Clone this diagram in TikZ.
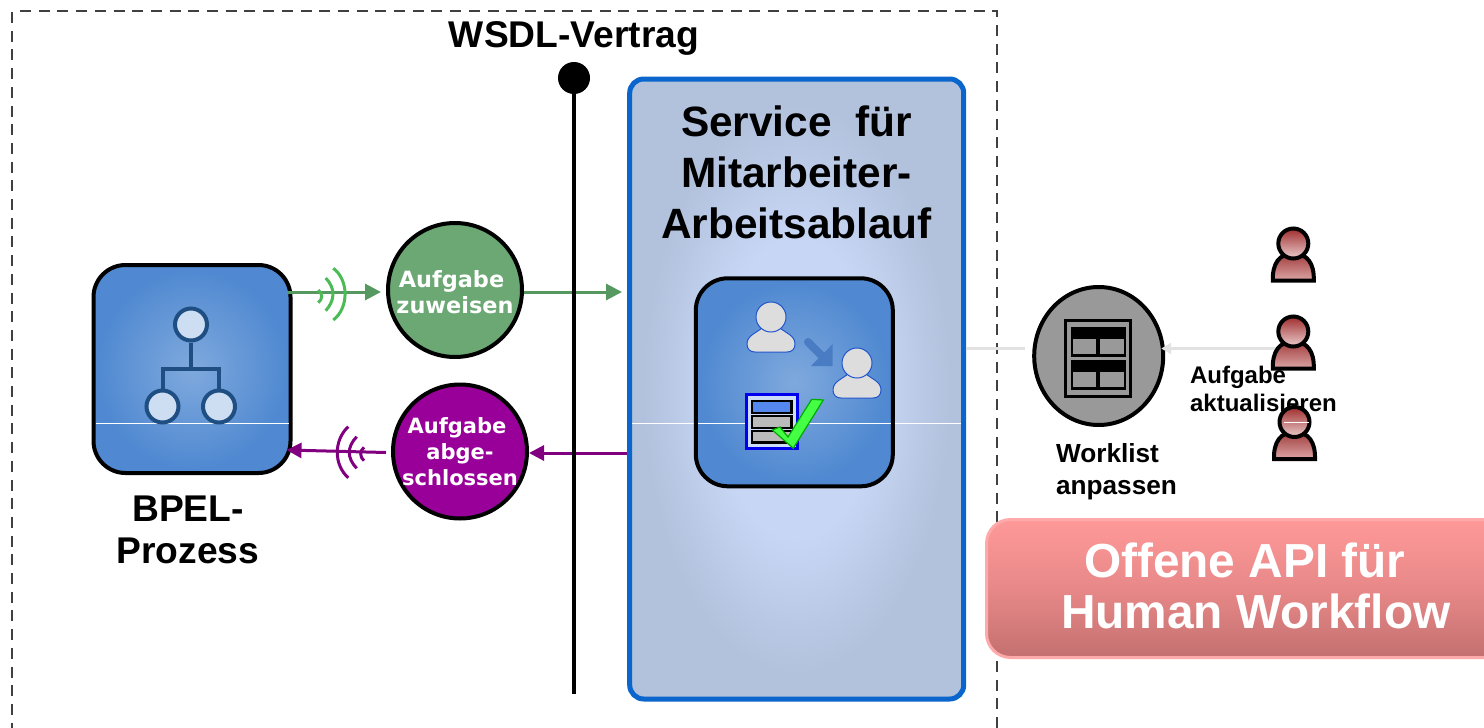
\documentclass[tikz,border=0pt]{standalone}
\usepackage{fontspec}
\setmainfont{Liberation Sans}
\newfontfamily\breitfont{DejaVu Sans}
\usetikzlibrary{arrows.meta,shapes.geometric}
\definecolor{rahmenblau}{HTML}{0A66CC}
\definecolor{serviceinnen}{HTML}{C6D6F4}
\definecolor{serviceaussen}{HTML}{B2C2DD}
\definecolor{kachelinnen}{HTML}{7FA9DD}
\definecolor{kachelaussen}{HTML}{5089D1}
\definecolor{gruen}{HTML}{6BA874}
\definecolor{gruenpfeil}{HTML}{559960}
\definecolor{gruenwelle}{HTML}{4CBB55}
\definecolor{lila}{HTML}{990099}
\definecolor{lilapfeil}{HTML}{800080}
\definecolor{hellgrau}{HTML}{E2E2E2}
\definecolor{mittelgrau}{HTML}{999999}
\definecolor{zeilengrau}{HTML}{BBBBBB}
\definecolor{nutzergrau}{HTML}{DDDDDD}
\definecolor{nutzerrand}{HTML}{2255CC}
\definecolor{baumblau}{HTML}{1F4E82}
\definecolor{baumhell}{HTML}{CDDEF3}
\definecolor{pfeilblau}{HTML}{4A7CC4}
\definecolor{formblau}{HTML}{0000EE}
\definecolor{formhell}{HTML}{CCDDF5}
\definecolor{zeileblau}{HTML}{5588EE}
\definecolor{hakenrand}{HTML}{00AA00}
\definecolor{hakengruen}{HTML}{44FF44}
\definecolor{kopfoben}{HTML}{A02D2D}
\definecolor{kopfunten}{HTML}{EBCDCD}
\definecolor{leiboben}{HTML}{A03C3C}
\definecolor{leibunten}{HTML}{DCA5A5}
\definecolor{apioben}{HTML}{FF9999}
\definecolor{apimitte}{HTML}{E88888}
\definecolor{apiunten}{HTML}{C47070}
\definecolor{apirand}{HTML}{FFAAAA}
\definecolor{strichgrau}{HTML}{404040}
\pgfdeclareradialshading{serviceglanz}{\pgfpoint{0bp}{0bp}}{color(0bp)=(serviceinnen); color(12bp)=(serviceinnen); color(23bp)=(serviceaussen); color(50bp)=(serviceaussen)}
\pgfdeclareradialshading{kachelglanz}{\pgfpoint{0bp}{0bp}}{color(0bp)=(kachelinnen); color(24bp)=(kachelaussen); color(50bp)=(kachelaussen)}
\tikzset{
  kachel/.style = {draw, line width=2pt, rounded corners=16pt, minimum width=98.5pt, minimum height=104pt, shade, shading=kachelglanz},
  kreis/.style = {draw, circle, line width=2pt, minimum size=67pt, inner sep=0pt},
  kreistext/.style = {text=white, align=center, font=\breitfont\bfseries\fontsize{11.2}{13}\selectfont},
  titel/.style = {align=center, font=\bfseries\fontsize{18.6}{21}\selectfont},
  klein/.style = {align=left, anchor=west, font=\bfseries},
  baum/.style = {circle, draw=baumblau, line width=2pt, fill=baumhell, minimum size=16pt, inner sep=0pt},
  hin/.style = {draw=gruenpfeil, line width=1.5pt, -{Triangle[length=8pt,width=8pt]}},
  rueck/.style = {draw=lilapfeil, line width=1.5pt, -{Triangle[length=7.5pt,width=7.5pt]}},
  grau/.style = {draw=hellgrau, line width=1.5pt},
  kollege/.pic = {
    \draw[line width=2pt, top color=leiboben, bottom color=leibunten] (-20.5,37) .. controls (-21,20) and (-14,10) .. (0,10) .. controls (14,10) and (21,20) .. (20.5,37) -- cycle;
    \draw[line width=2pt, top color=kopfoben, bottom color=kopfunten] (0,0) circle (7.5pt);
  },
  nutzer/.pic = {
    \draw[draw=nutzerrand, line width=.5pt, fill=nutzergrau] (-8,10) .. controls (-14,16) and (-24,18) .. (-24,27) .. controls (-24,32) and (-21,35) .. (-16,35) -- (16,35) .. controls (21,35) and (24,32) .. (24,27) .. controls (24,18) and (14,16) .. (8,10) -- cycle;
    \draw[draw=nutzerrand, line width=.5pt, fill=nutzergrau] (0,0) circle (7.5pt);
  }
}
\begin{document}
\begin{tikzpicture}[x=.5pt, y=-.5pt]
\useasboundingbox (0,0) rectangle (1484,728);
\clip (0,0) rectangle (1484,728);

% vertrag
\draw[draw=strichgrau, line width=1.25pt, dash pattern=on 5.5pt off 3.85pt] (20,11) -- (997,11) -- (997,740);
\draw[draw=strichgrau, line width=1.25pt, dash pattern=on 5.5pt off 3.85pt] (12,12) -- (12,740);
\node[titel] (wsdl) at (574,38) {WSDL-Vertrag};

% service
\node[draw=rahmenblau, line width=2.5pt, rounded corners=7pt, minimum width=167pt, minimum height=310pt, shade, shading=serviceglanz] (service) at (796.7,389) {};
\node[titel, font=\bfseries\fontsize{21.2}{25.5}\selectfont] (servicetext) at (796.5,172) {Service~~für\\Mitarbeiter-\\Arbeitsablauf};
\draw[white, line width=.5pt] ([xshift=2.5pt]service.west |- 0,423.5) -- ([xshift=-2.5pt]service.east |- 0,423.5);
\node[kachel] (human) at (794.3,382.3) {};
\draw[white, line width=.5pt] ([xshift=2pt]human.west |- 0,423.5) -- ([xshift=-2pt]human.east |- 0,423.5);
\pic at (771,317) {nutzer};
\pic at (857,363) {nutzer};
\draw[draw=pfeilblau, line width=4pt, line cap=round] (808,342) -- (825,359);
\fill[pfeilblau] (832.7,344) -- (832.7,366) -- (811,366) -- cycle;
\draw[draw=formblau, line width=1.5pt, fill=formhell] (746,394) rectangle (797,448);
\draw[line width=1.3pt, fill=zeileblau] (752,401) rectangle (791.5,413);
\foreach \ya/\yb in {416/428, 431/442.5}
  \draw[line width=1.3pt, fill=zeilengrau] (752,\ya) rectangle (791.5,\yb);
\draw[draw=hakenrand, line width=.6pt, fill=hakengruen] (772.3,430) -- (780,427) -- (788,437) -- (811.7,399.3) -- (823.3,400) -- (793.3,448.3) -- cycle;

% bpel
\node[kachel] (bpel) at (192,369) {};
\draw[white, line width=.5pt] ([xshift=2pt]bpel.west |- 0,423.5) -- ([xshift=-2pt]bpel.east |- 0,423.5);
\node[baum] (wurzel) at (191,324.5) {};
\node[baum] (kind1) at (162.5,406.5) {};
\node[baum] (kind2) at (219,406.5) {};
\coordinate (ast) at (191,369);
\draw[draw=baumblau, line width=2pt] (wurzel) -- (ast);
\draw[draw=baumblau, line width=2pt] (kind1) |- (ast) -| (kind2);
\node[titel] (bpeltext) at (188,530) {BPEL-\\Prozess};

% aufgaben
\node[kreis, fill=gruen] (zuweisen) at (455,290) {};
\node[kreistext] (zuweisentext) at (455,292) {Aufgabe\hspace*{3.5pt}\\zuweisen};
\node[kreis, fill=lila] (abgeschlossen) at (460,451.5) {};
\node[kreistext, font=\breitfont\bfseries\fontsize{10.5}{13}\selectfont] (abgeschlossentext) at (460,451.5) {Aufgabe\hspace*{3pt}\\abge-\\schlossen};
\coordinate (zielservice) at (622,292);
\coordinate (startservice) at (627,453);
\draw[hin] ([xshift=-3pt]bpel.east |- zielservice) -- ([xshift=-2.5pt]zuweisen.west |- zielservice);
\draw[hin] (zuweisen.east |- zielservice) -- (zielservice);
\draw[rueck] (startservice) -- (abgeschlossen.east |- startservice);
\draw[rueck] ([xshift=-2.5pt,yshift=-.5pt]abgeschlossen.west) -- ([xshift=-3pt,yshift=-.5pt]bpel.east |- 0,449);

% linie
\node[circle, fill=black, minimum size=16pt, inner sep=0pt] (punkt) at (574,78) {};
\coordinate (linienende) at (574,694);
\draw[line width=2pt] (punkt) -- (linienende);

% wellen
\draw[gruenwelle, line width=1.5pt]
  (333.3,268.3) .. controls (349,280) and (349,308) .. (333.3,320)
  (325.7,278) .. controls (335.4,288) and (335.4,300) .. (325.7,310.7)
  (318.3,290) .. controls (322.8,294) and (322.8,299) .. (318.3,302.7);
\draw[lilapfeil, line width=1.5pt]
  (348.3,426.7) .. controls (333.6,440) and (333.6,465) .. (348.3,477.7)
  (356.7,436.7) .. controls (346.8,447) and (346.8,458) .. (356.7,468.3)
  (364,447.3) .. controls (359.6,451) and (359.6,457) .. (364,460.7);

% worklist
\node[draw, ellipse, line width=2pt, fill=mittelgrau, minimum width=64.5pt, minimum height=69pt, inner sep=0pt] (worklist) at (1098.7,356) {};
\coordinate (kante) at (1275,348.5);
\draw[grau] (service.east |- kante) -- ([xshift=-3.5pt]worklist.west |- kante);
\draw[grau, -{Triangle[length=5pt,width=5.5pt]}] (kante) -- ([xshift=-2pt]worklist.east |- kante);
\draw[line width=1.5pt] (1065,320) rectangle (1130,396);
\foreach \yo in {327, 359.5} {
  \fill[black] (1071,\yo) rectangle (1126,\yo+30);
  \fill[mittelgrau] (1073,\yo+12) rectangle (1096,\yo+27);
  \fill[mittelgrau] (1100,\yo+12) rectangle (1124,\yo+27);
}
\node[klein, font=\bfseries\fontsize{13.1}{16}\selectfont] (anpassen) at (1049,471.5) {Worklist\\anpassen};

% mitarbeiter
\pic at (1293.3,243.5) {kollege};
\pic at (1293.3,331.5) {kollege};
\node[klein, font=\bfseries\fontsize{12}{13.7}\selectfont] (aktualisieren) at (1183,389) {Aufgabe\\aktualisieren};
\pic at (1294.5,422) {kollege};
\draw[white, line width=.5pt] (1284,422.7) -- (1309,422.7);

% api
\node[draw=apirand, line width=1.5pt, rounded corners=12pt, minimum width=300pt, minimum height=69pt, anchor=west, top color=apioben, bottom color=apiunten, middle color=apimitte] (api) at (985,588.5) {};
\node[anchor=west, align=left, text=white, font=\bfseries\fontsize{23.9}{25.7}\selectfont] (apitext) at (1054,586) {\hspace*{11.5pt}Offene API für\\Human Workflow};
\end{tikzpicture}
\end{document}
